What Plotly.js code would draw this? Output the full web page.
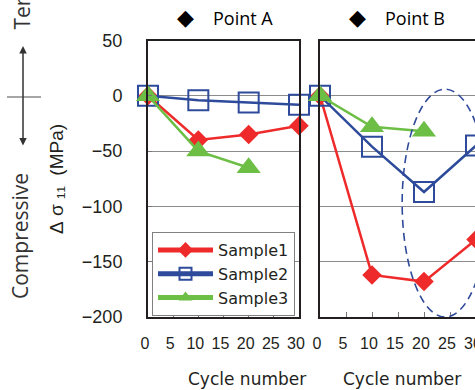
<!DOCTYPE html>
<html>
<head>
<meta charset="utf-8">
<script src="https://cdn.plot.ly/plotly-3.0.1.min.js"></script>
<style>
html, body { margin: 0; padding: 0; overflow: hidden; background: #fff; }
#chart { width: 490px; height: 390px; }
</style>
</head>
<body>
<div id="chart"></div>
<script>
// ---- data ----
const cycles = [0, 10, 20, 30];
const cyclesSample3 = [0, 10, 20];
const sampleNames = ["Sample1", "Sample2", "Sample3"];
const panelTitles = ["Point A", "Point B"];
const xTickVals = [0, 5, 10, 15, 20, 25, 30];
const yTickVals = [50, 0, -50, -100, -150, -200];

const pointA_sample1 = [0, -40, -35, -27];
const pointA_sample2 = [0, -4, -6, -8];
const pointA_sample3 = [0, -50, -65];

const pointB_sample1 = [0, -162, -168, -130];
const pointB_sample2 = [0, -46, -87, -45];
const pointB_sample3 = [0, -28, -32];

// ---- styles ----
const W = 490, H = 390;
const colors = ["#EE2A2A", "#2E4B9B", "#6CBE45"];
const symbols = ["diamond", "square-open", "triangle-up"];
const msizes = [15, 20, 21];
const frame = "#231F20";
const txt = "#231F20";

function mk(xs, ys, i, panel) {
  return {
    x: xs, y: ys, type: "scatter", mode: "lines+markers",
    name: sampleNames[i], legendgroup: sampleNames[i],
    showlegend: panel === 0,
    xaxis: panel === 0 ? "x" : "x2", yaxis: panel === 0 ? "y" : "y2",
    line: { color: colors[i], width: 2.5 },
    marker: { symbol: symbols[i], size: msizes[i], color: colors[i],
              line: { color: colors[i], width: i === 1 ? 2 : 0 } },
    cliponaxis: false
  };
}

const traces = [
  mk(cycles, pointA_sample1, 0, 0),
  mk(cycles, pointA_sample2, 1, 0),
  mk(cyclesSample3, pointA_sample3, 2, 0),
  mk(cycles, pointB_sample1, 0, 1),
  mk(cycles, pointB_sample2, 1, 1),
  mk(cyclesSample3, pointB_sample3, 2, 1)
];

const px = v => v / W;
const py = v => (H - v) / H;

function xax(domain) {
  return {
    domain: domain, range: [0, 30], tickvals: xTickVals,
    ticks: "inside", ticklen: 5, tickwidth: 1, tickcolor: "#777",
    showline: true, mirror: true, linecolor: frame, linewidth: 2,
    showgrid: false, zeroline: false,
    tickfont: { family: "Liberation Sans, Arial, sans-serif", size: 16, color: txt },
    ticklabelstandoff: 11, ticklabelshift: -3
  };
}
function yax(domain, anchor, labels) {
  return {
    domain: domain, range: [-200, 50], tickvals: yTickVals, anchor: anchor,
    ticks: labels ? "inside" : "", ticklen: 4, tickwidth: 1, tickcolor: "#777",
    showticklabels: labels,
    showline: true, mirror: true, linecolor: frame, linewidth: 2,
    showgrid: true, gridcolor: "#8c8c8c", gridwidth: 1, zeroline: false,
    tickfont: { family: "Liberation Sans, Arial, sans-serif", size: 18, color: txt },
    ticklabelstandoff: 20
  };
}

function note(x, y, text, font, extra) {
  return Object.assign({ xref: "paper", yref: "paper", x: px(x), y: py(y), text: text,
    showarrow: false, xanchor: "center", yanchor: "middle", font: font }, extra || {});
}

const yDom = [py(317), py(40.5)];
const layout = {
  width: W, height: H,
  margin: { l: 0, r: 0, t: 0, b: 0, pad: 0 },
  paper_bgcolor: "#fff", plot_bgcolor: "#fff",
  xaxis: Object.assign(xax([px(148), px(299)]), { anchor: "y" }),
  yaxis: yax(yDom, "x", true),
  xaxis2: Object.assign(xax([px(320), px(476)]), { anchor: "y2" }),
  yaxis2: yax(yDom, "x2", false),
  showlegend: true,
  legend: {
    x: px(152), y: py(232), xanchor: "left", yanchor: "top",
    bgcolor: "#fff", bordercolor: "#808080", borderwidth: 1,
    font: { family: "DejaVu Sans, sans-serif", size: 16, color: txt },
    itemsizing: "constant", itemwidth: 55, traceorder: "normal"
  },
  shapes: [
    { type: "circle", xref: "x2", yref: "y2", x0: 15.8, x1: 32.3, y0: -200, y1: 6,
      line: { color: "#2F4A9A", width: 1.6, dash: "8px,5px" }, layer: "above" },
    { type: "line", xref: "paper", yref: "paper", x0: px(7), x1: px(41), y0: py(97), y1: py(97),
      line: { color: "#888", width: 1.5 } }
  ],
  annotations: [
    // panel headers
    note(185, 18, "◆", { family: "DejaVu Sans", size: 22, color: "#000" }),
    note(211, 18, panelTitles[0], { family: "Open Sans", size: 18, color: "#000" }, { xanchor: "left" }),
    note(357, 18, "◆", { family: "DejaVu Sans", size: 22, color: "#000" }),
    note(383, 18, panelTitles[1], { family: "Open Sans", size: 18, color: "#000" }, { xanchor: "left" }),
    // x titles
    note(247, 379, "Cycle number", { family: "DejaVu Sans", size: 17, color: txt }),
    note(402, 379, "Cycle number", { family: "DejaVu Sans", size: 17, color: txt }),
    // y title
    note(56, 179, "Δ\u00A0σ\u00A0\u2081\u2081\u00A0\u00A0(MPa)",
      { family: "Liberation Sans, DejaVu Sans", size: 19, color: txt }, { textangle: -90 }),
    // tensile / compressive
    note(21, -4.5, "Tensile", { family: "Open Sans", size: 21, color: "#333" }, { textangle: -90 }),
    note(20, 236, "Compressive", { family: "Open Sans", size: 21, color: "#333" }, { textangle: -90 }),
    { xref: "paper", yref: "paper", x: px(23), y: py(46), ax: 0, ay: 101,
      axref: "pixel", ayref: "pixel", text: "", showarrow: true,
      arrowhead: 2, arrowside: "end+start", arrowsize: 1, arrowwidth: 1.5,
      arrowcolor: "#333", standoff: 0, startstandoff: 0 }
  ]
};

Plotly.newPlot("chart", traces, layout, { displayModeBar: false, staticPlot: true });
</script>
</body>
</html>
